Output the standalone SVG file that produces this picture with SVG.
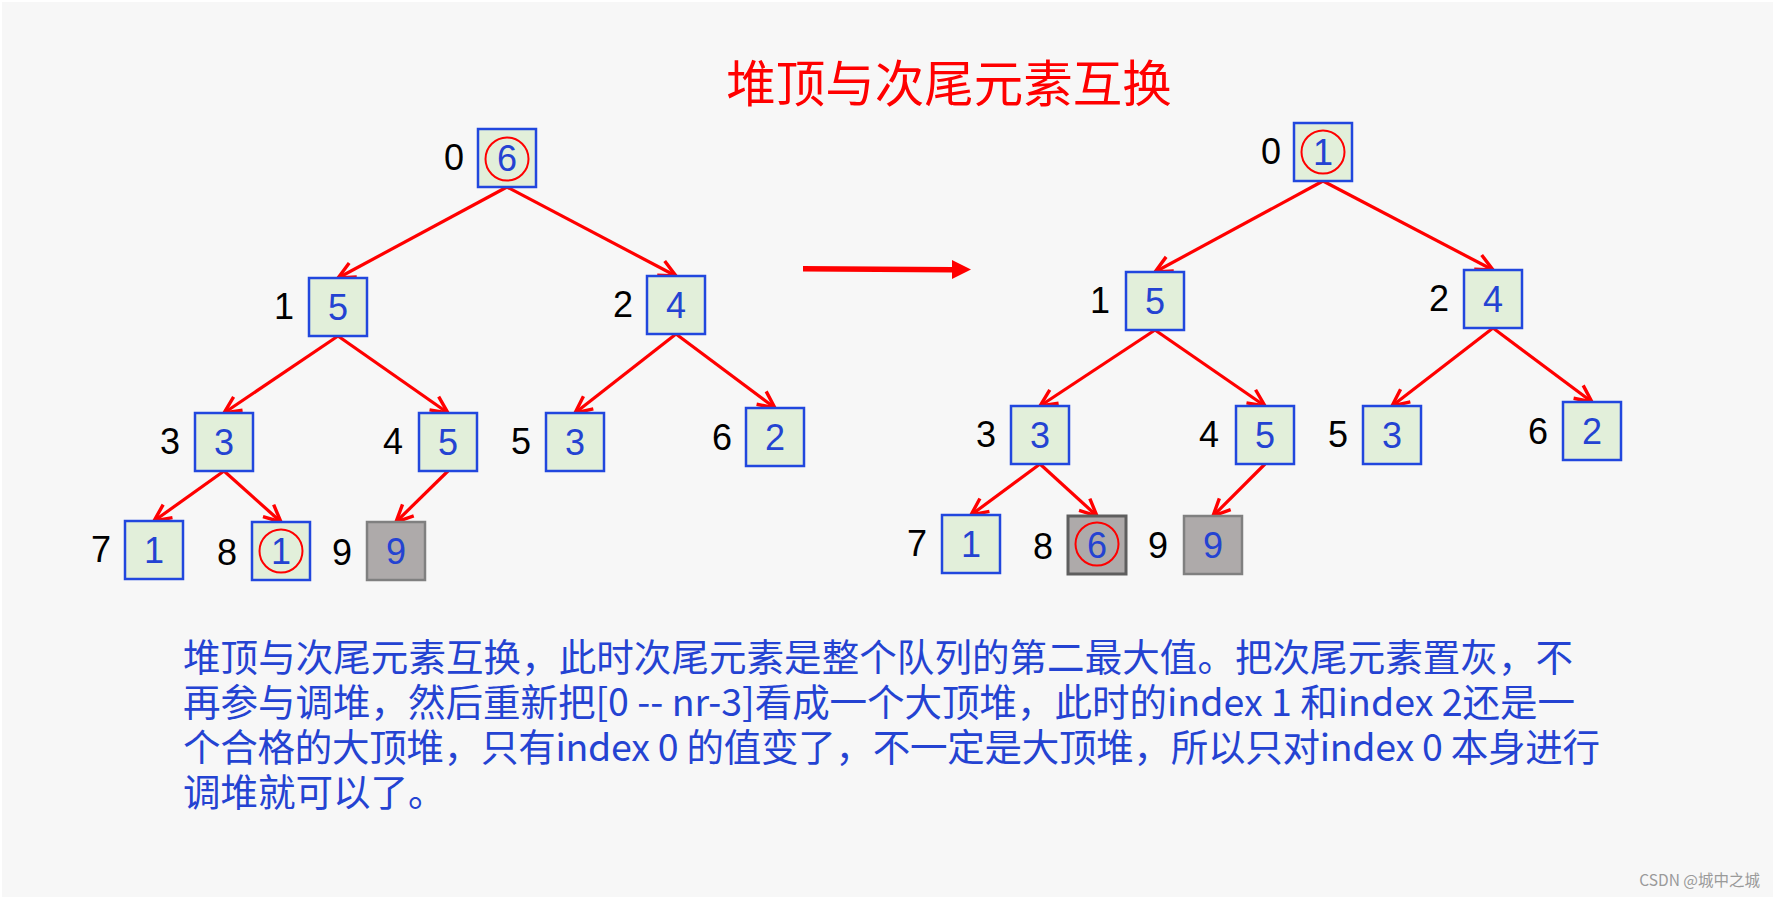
<svg xmlns="http://www.w3.org/2000/svg" width="1775" height="899" viewBox="0 0 1775 899">
<defs>
<style>
.box{fill:#E2EFDA;stroke:#2147DE;stroke-width:2.5}
.gbox{fill:#AEAAAA;stroke:#808080;stroke-width:2.5}
.dbox{fill:#AEAAAA;stroke:#5E5E5E;stroke-width:3}
.val{font-family:"Liberation Sans",Arial,sans-serif;font-size:36px;fill:#2443D2;text-anchor:middle}
.idx{font-family:"Liberation Sans",Arial,sans-serif;font-size:36px;fill:#000;text-anchor:middle}
.ring{fill:none;stroke:#FF0000;stroke-width:2}
.edge{stroke:#FF0000;stroke-width:3.2;fill:none;marker-end:url(#ah)}
.cjk{font-family:"Noto Sans CJK SC","Noto Sans CJK JP",sans-serif}
</style>
<marker id="ah" markerUnits="userSpaceOnUse" markerWidth="40" markerHeight="40" viewBox="-20 -20 40 40" refX="0" refY="0" orient="auto">
<path d="M-17,-8 L0,0 L-17,8" fill="none" stroke="#FF0000" stroke-width="3.4"/>
</marker>
</defs>
<rect x="0" y="0" width="1775" height="899" fill="#FFFFFF"/>
<rect x="2" y="2" width="1771" height="895" fill="#F7F7F7"/>

<text class="cjk" x="949" y="102" font-size="49.5" fill="#FF0000" text-anchor="middle">堆顶与次尾元素互换</text>

<g id="connectors">
<line class="edge" x1="507" y1="187" x2="338" y2="278"/>
<line class="edge" x1="507" y1="187" x2="676" y2="276"/>
<line class="edge" x1="338" y1="336" x2="224" y2="413"/>
<line class="edge" x1="338" y1="336" x2="448" y2="413"/>
<line class="edge" x1="676" y1="334" x2="575" y2="413"/>
<line class="edge" x1="676" y1="334" x2="775" y2="408"/>
<line class="edge" x1="224" y1="471" x2="154" y2="521"/>
<line class="edge" x1="224" y1="471" x2="281" y2="522"/>
<line class="edge" x1="448" y1="471" x2="396" y2="522"/>

<line class="edge" x1="1323" y1="181" x2="1155" y2="272"/>
<line class="edge" x1="1323" y1="181" x2="1493" y2="270"/>
<line class="edge" x1="1155" y1="330" x2="1040" y2="406"/>
<line class="edge" x1="1155" y1="330" x2="1265" y2="406"/>
<line class="edge" x1="1493" y1="328" x2="1392" y2="406"/>
<line class="edge" x1="1493" y1="328" x2="1592" y2="402"/>
<line class="edge" x1="1040" y1="464" x2="971" y2="515"/>
<line class="edge" x1="1040" y1="464" x2="1097" y2="516"/>
<line class="edge" x1="1265" y1="464" x2="1213" y2="516"/>

<path d="M803,266 L952,267 L952,260 L971,269.5 L952,279 L952,272.5 L803,271.5 Z" fill="#FF0000"/>
</g>

<g id="L0"><rect class="box" x="478" y="129" width="58" height="58"/><circle class="ring" cx="507" cy="159" r="21.5"/><text class="val" x="507" y="171">6</text><text class="idx" x="454" y="170">0</text></g>
<g id="L1"><rect class="box" x="309" y="278" width="58" height="58"/><text class="val" x="338" y="320">5</text><text class="idx" x="284" y="319">1</text></g>
<g id="L2"><rect class="box" x="647" y="276" width="58" height="58"/><text class="val" x="676" y="318">4</text><text class="idx" x="623" y="317">2</text></g>
<g id="L3"><rect class="box" x="195" y="413" width="58" height="58"/><text class="val" x="224" y="455">3</text><text class="idx" x="170" y="454">3</text></g>
<g id="L4"><rect class="box" x="419" y="413" width="58" height="58"/><text class="val" x="448" y="455">5</text><text class="idx" x="393" y="454">4</text></g>
<g id="L5"><rect class="box" x="546" y="413" width="58" height="58"/><text class="val" x="575" y="455">3</text><text class="idx" x="521" y="454">5</text></g>
<g id="L6"><rect class="box" x="746" y="408" width="58" height="58"/><text class="val" x="775" y="450">2</text><text class="idx" x="722" y="450">6</text></g>
<g id="L7"><rect class="box" x="125" y="521" width="58" height="58"/><text class="val" x="154" y="563">1</text><text class="idx" x="101" y="562">7</text></g>
<g id="L8"><rect class="box" x="252" y="522" width="58" height="58"/><circle class="ring" cx="281" cy="551" r="21.5"/><text class="val" x="281" y="564">1</text><text class="idx" x="227" y="565">8</text></g>
<g id="L9"><rect class="gbox" x="367" y="522" width="58" height="58"/><text class="val" x="396" y="564">9</text><text class="idx" x="342" y="565">9</text></g>

<g id="R0"><rect class="box" x="1294" y="123" width="58" height="58"/><circle class="ring" cx="1323" cy="152" r="21.5"/><text class="val" x="1323" y="165">1</text><text class="idx" x="1271" y="164">0</text></g>
<g id="R1"><rect class="box" x="1126" y="272" width="58" height="58"/><text class="val" x="1155" y="314">5</text><text class="idx" x="1100" y="313">1</text></g>
<g id="R2"><rect class="box" x="1464" y="270" width="58" height="58"/><text class="val" x="1493" y="312">4</text><text class="idx" x="1439" y="311">2</text></g>
<g id="R3"><rect class="box" x="1011" y="406" width="58" height="58"/><text class="val" x="1040" y="448">3</text><text class="idx" x="986" y="447">3</text></g>
<g id="R4"><rect class="box" x="1236" y="406" width="58" height="58"/><text class="val" x="1265" y="448">5</text><text class="idx" x="1209" y="447">4</text></g>
<g id="R5"><rect class="box" x="1363" y="406" width="58" height="58"/><text class="val" x="1392" y="448">3</text><text class="idx" x="1338" y="447">5</text></g>
<g id="R6"><rect class="box" x="1563" y="402" width="58" height="58"/><text class="val" x="1592" y="444">2</text><text class="idx" x="1538" y="444">6</text></g>
<g id="R7"><rect class="box" x="942" y="515" width="58" height="58"/><text class="val" x="971" y="557">1</text><text class="idx" x="917" y="556">7</text></g>
<g id="R8"><rect class="dbox" x="1068" y="516" width="58" height="58"/><circle class="ring" cx="1097" cy="544" r="21.5"/><text class="val" x="1097" y="558">6</text><text class="idx" x="1043" y="559">8</text></g>
<g id="R9"><rect class="gbox" x="1184" y="516" width="58" height="58"/><text class="val" x="1213" y="558">9</text><text class="idx" x="1158" y="558">9</text></g>

<g id="note" class="cjk" font-size="37.5" fill="#2443D2">
<text x="183" y="671" textLength="1390" lengthAdjust="spacing">堆顶与次尾元素互换，此时次尾元素是整个队列的第二最大值。把次尾元素置灰，不</text>
<text x="183" y="716" textLength="1392" lengthAdjust="spacing">再参与调堆，然后重新把[0 -- nr-3]看成一个大顶堆，此时的index 1 和index 2还是一</text>
<text x="183" y="761" textLength="1417" lengthAdjust="spacing">个合格的大顶堆，只有index 0 的值变了，不一定是大顶堆，所以只对index 0 本身进行</text>
<text x="183" y="806">调堆就可以了。</text>
</g>

<text class="cjk" x="1760" y="886" font-size="15.5" fill="#9A9A9A" text-anchor="end">CSDN @城中之城</text>
</svg>
